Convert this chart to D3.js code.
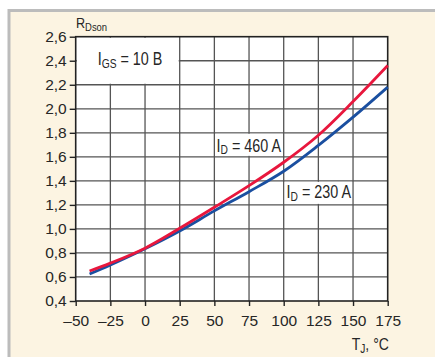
<!DOCTYPE html>
<html><head><meta charset="utf-8">
<script src="https://cdn.jsdelivr.net/npm/d3@7"></script>
<style>
html,body{margin:0;padding:0;background:#fff;}
svg{display:block;}
text{font-family:"Liberation Sans",Arial,sans-serif;fill:#262626;}
</style></head>
<body>
<script>
const temps = [-40, -25, 0, 25, 50, 75, 100, 125, 150, 175];
const rds460 = [0.65, 0.715, 0.84, 1.005, 1.18, 1.36, 1.555, 1.78, 2.06, 2.36];
const rds230 = [0.625, 0.70, 0.835, 0.983, 1.15, 1.31, 1.48, 1.695, 1.93, 2.18];
const xTicks = [-50, -25, 0, 25, 50, 75, 100, 125, 150, 175];
const yTicks = [0.4, 0.6, 0.8, 1.0, 1.2, 1.4, 1.6, 1.8, 2.0, 2.2, 2.4, 2.6];

const W = 435, H = 357;
const svg = d3.select("body").append("svg").attr("width", W).attr("height", H);

// frame background
svg.append("rect").attr("x", 0).attr("y", 0).attr("width", W).attr("height", H).attr("fill", "#ffffff");
svg.append("rect").attr("x", 7.5).attr("y", 9).attr("width", W).attr("height", H).attr("fill", "#bcbcbc");
svg.append("rect").attr("x", 10.5).attr("y", 12).attr("width", W).attr("height", H).attr("fill", "#fcf4e2");

const x = d3.scaleLinear().domain([-50, 175]).range([75.7, 387.7]);
const y = d3.scaleLinear().domain([0.4, 2.6]).range([301, 36.7]);

const g = svg.append("g");
g.append("rect").attr("x", x(-50)).attr("y", y(2.6)).attr("width", x(175) - x(-50)).attr("height", y(0.4) - y(2.6)).attr("fill", "#fff");

// grid
g.selectAll("line.vg").data(xTicks.slice(1, -1)).join("line")
  .attr("x1", d => x(d)).attr("x2", d => x(d)).attr("y1", y(2.6)).attr("y2", y(0.4))
  .attr("stroke", "#555").attr("stroke-width", 1.3);
g.selectAll("line.hg").data(yTicks.slice(1, -1)).join("line")
  .attr("y1", d => y(d)).attr("y2", d => y(d)).attr("x1", x(-50)).attr("x2", x(175))
  .attr("stroke", "#555").attr("stroke-width", 1.3);

// label boxes (white fills hiding inner grid)
function box(x0, x1, y0, y1) {
  g.append("rect").attr("x", x(x0) + 1).attr("y", y(y1) + 1)
    .attr("width", x(x1) - x(x0) - 2).attr("height", y(y0) - y(y1) - 2).attr("fill", "#fff");
}
box(-50, 25, 2.2, 2.6);
box(50, 100, 1.6, 1.8);
box(100, 150, 1.2, 1.4);

// frame
g.append("rect").attr("x", x(-50)).attr("y", y(2.6)).attr("width", x(175) - x(-50)).attr("height", y(0.4) - y(2.6))
  .attr("fill", "none").attr("stroke", "#222").attr("stroke-width", 1.6);

// axes
const xAxis = d3.axisBottom(x).tickValues(xTicks).tickSize(5).tickPadding(9)
  .tickFormat(d => d < 0 ? "\u2013" + Math.abs(d) : String(d));
const gx = g.append("g").attr("transform", `translate(0,${y(0.4)})`).call(xAxis);
gx.select(".domain").remove();
gx.selectAll(".tick line").attr("stroke", "#222").attr("stroke-width", 1.4);
gx.selectAll(".tick text").attr("font-size", 15.5).attr("fill", "#262626")
  .style("font-family", '"Liberation Sans",Arial,sans-serif');

const yAxis = d3.axisLeft(y).tickValues(yTicks).tickSize(6).tickPadding(3)
  .tickFormat(d => d3.format(".1f")(d).replace(".", ","));
const gy = g.append("g").attr("transform", `translate(${x(-50)},0)`).call(yAxis);
gy.select(".domain").remove();
gy.selectAll(".tick line").attr("stroke", "#222").attr("stroke-width", 1.4);
gy.selectAll(".tick text").attr("font-size", 15.5).attr("fill", "#262626")
  .style("font-family", '"Liberation Sans",Arial,sans-serif');

// curves
const line = d3.line().x((d, i) => x(temps[i])).y(d => y(d)).curve(d3.curveCatmullRom.alpha(0.5));
g.append("path").datum(rds230).attr("d", line).attr("fill", "none").attr("stroke", "#1a4fa0").attr("stroke-width", 2.8);
g.append("path").datum(rds460).attr("d", line).attr("fill", "none").attr("stroke", "#e8173d").attr("stroke-width", 2.8);

// labels (condensed look via horizontal scale)
function sublabel(px, py, main, sub, rest, size, subSize, sx) {
  const t = svg.append("text").attr("x", 0).attr("y", 0).attr("font-size", size)
    .attr("transform", `translate(${px},${py}) scale(${sx},1)`);
  t.append("tspan").text(main);
  t.append("tspan").text(sub).attr("font-size", subSize).attr("dy", 2.5);
  if (rest) t.append("tspan").text(rest).attr("dy", -2.5);
  return t;
}
sublabel(76, 28.3, "R", "Dson", "", 14, 10.5, 0.9);
sublabel(97.7, 65, "I", "GS", " = 10 B", 17.5, 12.5, 0.82);
sublabel(216.5, 151.7, "I", "D", " = 460 A", 17.5, 12.5, 0.82);
sublabel(286.5, 198.3, "I", "D", " = 230 A", 17.5, 12.5, 0.82);
sublabel(351.7, 350, "T", "J", ", °C", 16.5, 12, 0.85);
</script>
</body></html>
